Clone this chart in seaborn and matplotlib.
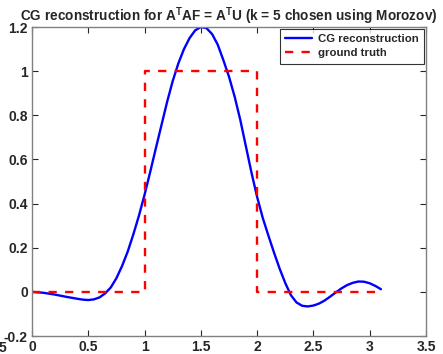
import matplotlib
matplotlib.use("Agg")
import matplotlib.pyplot as plt
import seaborn as sns
from matplotlib.ticker import FormatStrFormatter

# CG reconstruction
x_cg = [0.0, 0.1, 0.2, 0.3, 0.4, 0.45, 0.5, 0.55, 0.6, 0.65, 0.7, 0.75, 0.8,
        0.85, 0.9, 0.95, 1.0, 1.05, 1.1, 1.15, 1.2, 1.25, 1.3, 1.35, 1.4,
        1.45, 1.5, 1.55, 1.6, 1.65, 1.7, 1.75, 1.8, 1.85, 1.9, 1.95, 2.0,
        2.05, 2.1, 2.15, 2.2, 2.25, 2.3, 2.35, 2.4, 2.45, 2.5, 2.55, 2.6,
        2.65, 2.7, 2.75, 2.8, 2.85, 2.9, 2.95, 3.0, 3.05, 3.1]
y_cg = [0.0, -0.004, -0.012, -0.022, -0.031, -0.035, -0.037, -0.034, -0.025,
        -0.007, 0.02, 0.062, 0.117, 0.182, 0.26, 0.345, 0.44, 0.543, 0.65,
        0.755, 0.86, 0.955, 1.035, 1.10, 1.15, 1.185, 1.2, 1.195, 1.168,
        1.12, 1.05, 0.975, 0.885, 0.78, 0.66, 0.54, 0.43, 0.335, 0.255, 0.178,
        0.105, 0.04, -0.015, -0.048, -0.063, -0.066, -0.062, -0.053, -0.039,
        -0.021, -0.002, 0.016, 0.031, 0.041, 0.047, 0.046, 0.039, 0.027, 0.012]

# ground truth step
x_true = [0.0, 1.0, 1.0, 2.0, 2.0, 3.1]
y_true = [0.0, 0.0, 1.0, 1.0, 0.0, 0.0]

x_ticks = [0, 0.5, 1, 1.5, 2, 2.5, 3, 3.5]
y_ticks = [-0.2, 0, 0.2, 0.4, 0.6, 0.8, 1, 1.2]

sns.set_theme(style="ticks")
plt.rcParams["font.family"] = ["Liberation Sans", "DejaVu Sans"]
plt.rcParams["font.weight"] = "bold"
plt.rcParams["mathtext.fontset"] = "custom"
plt.rcParams["mathtext.rm"] = "Liberation Sans:bold"
plt.rcParams["mathtext.bf"] = "Liberation Sans:bold"

fig = plt.figure(figsize=(4.43, 3.54), dpi=100)
ax = fig.add_axes([0.0722, 0.0508, 0.8894, 0.8729])

sns.lineplot(x=x_cg, y=y_cg, ax=ax, color="#0000ff", linewidth=1.7,
             estimator=None, sort=False, label="CG reconstruction")
sns.lineplot(x=x_true, y=y_true, ax=ax, color="#ff0000", linewidth=1.7,
             estimator=None, sort=False, label="ground truth",
             linestyle=(0, (3.5, 3.5)))

ax.set_xlim(0, 3.5)
ax.set_ylim(-0.2, 1.2)
ax.set_xticks(x_ticks)
ax.set_yticks(y_ticks)
ax.xaxis.set_major_formatter(FormatStrFormatter("%g"))
ax.yaxis.set_major_formatter(FormatStrFormatter("%g"))
ax.tick_params(direction="in", top=True, right=True, length=4, width=0.8,
               color="0.15", labelsize=10, pad=3)
for lab in ax.get_xticklabels() + ax.get_yticklabels():
    lab.set_fontweight("bold")
    lab.set_color("0.15")
for s in ax.spines.values():
    s.set_visible(True)
    s.set_color("0.5")
    s.set_linewidth(1.0)

ax.set_title(r"CG reconstruction for A$^{\mathrm{T}}$AF = A$^{\mathrm{T}}$U (k = 5 chosen using Morozov)",
             fontsize=9.8, fontweight="bold", pad=4)

leg = ax.legend(loc="upper right", fontsize=8.2, frameon=True, fancybox=False,
                handlelength=2.4, borderpad=0.45, labelspacing=0.35,
                handletextpad=0.5, borderaxespad=0.2)
leg.get_frame().set_edgecolor("black")
leg.get_frame().set_linewidth(0.8)
for t in leg.get_texts():
    t.set_fontweight("bold")

fig.text(-0.004, 0.005, "5", fontsize=10, fontweight="bold", color="0.15")

fig.savefig("out.png", dpi=100)
